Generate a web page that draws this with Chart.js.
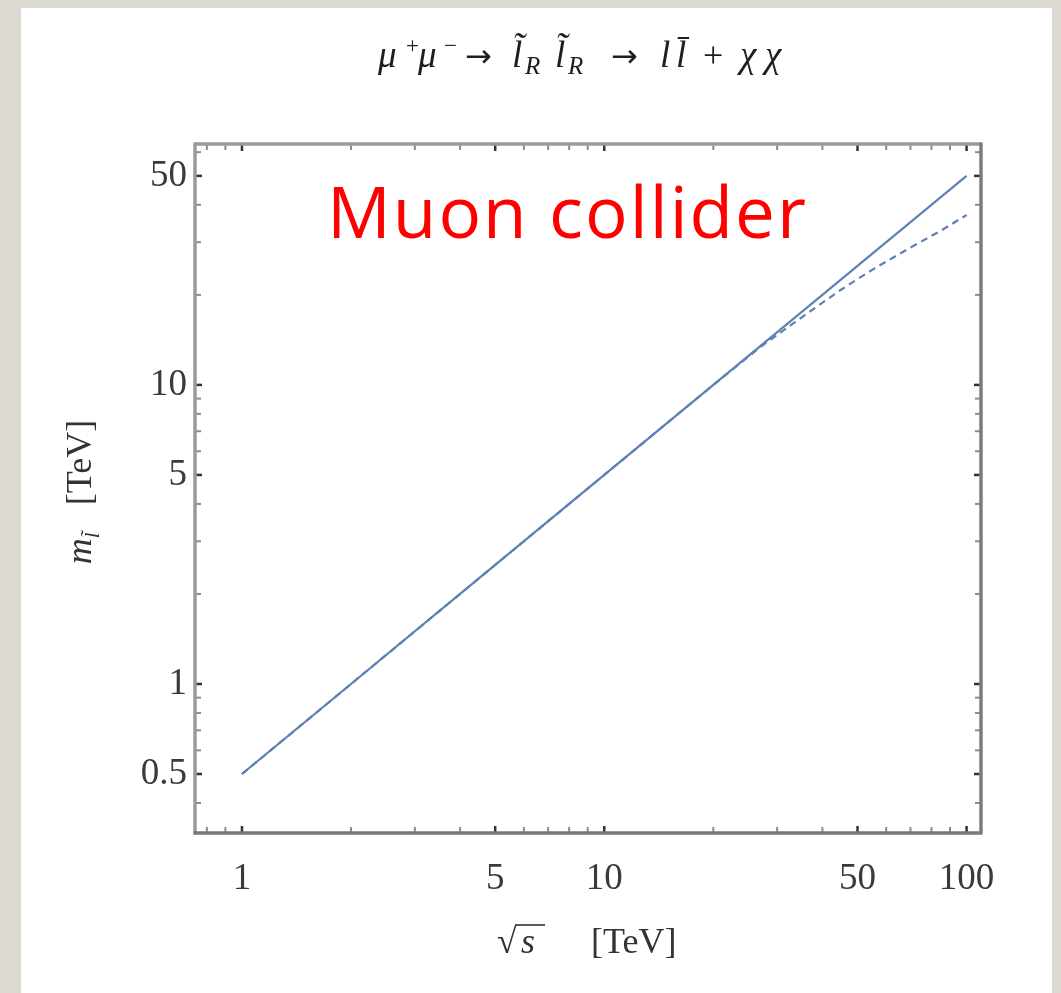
<!DOCTYPE html>
<html>
<head>
<meta charset="utf-8">
<script src="https://cdn.jsdelivr.net/npm/chart.js@4.4.0/dist/chart.umd.min.js"></script>
<style>
html, body { margin: 0; padding: 0; background: #dcd9d3; }
#panel { position: absolute; left: 21px; top: 8px; width: 1031px; height: 985px; background: #fff; }
#wrap { position: absolute; left: 0; top: 0; width: 1061px; height: 993px; }
</style>
</head>
<body>
<div id="panel"></div>
<div id="wrap"><canvas id="myChart"></canvas></div>
<script>
// sqrt(s) [TeV] and slepton mass reach [TeV]
var rootS = [1, 2, 5, 10, 20, 50, 100];
var mSolid = [0.5, 1, 2.5, 5, 10, 25, 50];
var rootSDashed = [1, 5, 10, 20, 27, 35, 45, 55, 70, 85, 100];
var mDashed = [0.5, 2.5, 5, 10, 13.4, 16.8, 20.8, 24.3, 28.8, 32.8, 37];

// frame ticks, labelled ones first
var xMajor = [1, 5, 10, 50, 100];
var xMinor = [0.8, 0.9, 2, 3, 4, 6, 7, 8, 9, 20, 30, 40, 60, 70, 80, 90];
var yMajor = [0.5, 1, 5, 10, 50];
var yMinor = [0.4, 0.6, 0.7, 0.8, 0.9, 2, 3, 4, 6, 7, 8, 9, 20, 30, 40, 60];

var SERIF = '"Liberation Serif", "DejaVu Serif", serif';
var LINE = '#5e81b5';

function pts(xs, ys) {
    var out = [];
    for (var i = 0; i < xs.length; i++) out.push({x: xs[i], y: ys[i]});
    return out;
}

// draws a list of text pieces one after the other, centred on x
function drawRuns(ctx, runs, x, y) {
    var w = 0;
    runs.forEach(function (r) { ctx.font = r.font; r.w = ctx.measureText(r.t).width; w += r.w; });
    var cx = x - w / 2;
    ctx.textBaseline = 'alphabetic';
    ctx.textAlign = 'left';
    runs.forEach(function (r) {
        ctx.font = r.font;
        ctx.fillText(r.t, cx, y + (r.dy || 0));
        r.x = cx;
        cx += r.w;
    });
    return runs;
}

// pieces with their own x
function drawPlaced(ctx, runs, y) {
    ctx.textBaseline = 'alphabetic';
    ctx.textAlign = 'left';
    runs.forEach(function (r) {
        ctx.font = r.font;
        ctx.fillText(r.t, r.x, y + (r.dy || 0));
    });
}

var framePlugin = {
    id: 'frame',
    afterDatasetsDraw: function (chart) {
        var ctx = chart.ctx, a = chart.chartArea;
        var xs = chart.scales.x, ys = chart.scales.y;
        ctx.save();
        function tick(x1, y1, x2, y2, col, lw) {
            ctx.strokeStyle = col; ctx.lineWidth = lw;
            ctx.beginPath(); ctx.moveTo(x1, y1); ctx.lineTo(x2, y2); ctx.stroke();
        }
        xMinor.forEach(function (v) {
            var p = xs.getPixelForValue(v);
            tick(p, a.bottom, p, a.bottom - 6, '#8c8c8c', 2);
            tick(p, a.top, p, a.top + 6, '#8c8c8c', 2);
        });
        xMajor.forEach(function (v) {
            var p = xs.getPixelForValue(v);
            tick(p, a.bottom, p, a.bottom - 7, '#333', 2.5);
            tick(p, a.top, p, a.top + 7, '#333', 2.5);
        });
        yMinor.forEach(function (v) {
            var p = ys.getPixelForValue(v);
            tick(a.left, p, a.left + 6, p, '#8c8c8c', 2);
            tick(a.right, p, a.right - 6, p, '#8c8c8c', 2);
        });
        yMajor.forEach(function (v) {
            var p = ys.getPixelForValue(v);
            tick(a.left, p, a.left + 7, p, '#333', 2.5);
            tick(a.right, p, a.right - 7, p, '#333', 2.5);
        });
        // frame
        tick(a.left, a.top - 1.5, a.left, a.bottom + 1.5, '#9a9a9a', 3.5);
        tick(a.left, a.top, a.right, a.top, '#9a9a9a', 3.5);
        tick(a.left - 1.5, a.bottom, a.right + 1.5, a.bottom, '#787878', 3.5);
        tick(a.right, a.top - 1.5, a.right, a.bottom, '#7c7c7c', 3.5);
        ctx.restore();
    },
    afterDraw: function (chart) {
        var ctx = chart.ctx;
        ctx.save();

        // process title
        ctx.fillStyle = '#1e1e1e';
        var it = 'italic 37px ' + SERIF, sub = 'italic 25px ' + SERIF,
            sup = '23px ' + SERIF, arr = '32px "DejaVu Sans", sans-serif', rm = '36px ' + SERIF;
        drawPlaced(ctx, [
            {t: '\u03bc', font: it, x: 378}, {t: '+', font: sup, x: 406, dy: -14},
            {t: '\u03bc', font: it, x: 418}, {t: '\u2212', font: sup, x: 444, dy: -14},
            {t: '\u2192', font: arr, x: 465},
            {t: 'l\u0303', font: it, x: 512}, {t: 'R', font: sub, x: 525, dy: 7},
            {t: 'l\u0303', font: it, x: 555}, {t: 'R', font: sub, x: 568, dy: 7},
            {t: '\u2192', font: arr, x: 611},
            {t: 'l', font: it, x: 660}, {t: 'l\u0304', font: it, x: 676},
            {t: '+', font: rm, x: 703},
            {t: '\u03c7', font: it, x: 740}, {t: '\u03c7', font: it, x: 765}
        ], 67);

        // x axis title
        ctx.fillStyle = '#333';
        drawPlaced(ctx, [
            {t: '\u221a', font: '36px ' + SERIF, x: 497},
            {t: 's', font: 'italic 36px ' + SERIF, x: 521},
            {t: '[TeV]', font: '36px ' + SERIF, x: 591}
        ], 953);
        ctx.strokeStyle = '#333'; ctx.lineWidth = 1.6;
        ctx.beginPath(); ctx.moveTo(516, 925); ctx.lineTo(545, 925); ctx.stroke();

        // y axis title
        ctx.translate(91, 492);
        ctx.rotate(-Math.PI / 2);
        drawRuns(ctx, [
            {t: 'm', font: 'italic 36px ' + SERIF},
            {t: 'l\u0303', font: 'italic 21px ' + SERIF, dy: 8},
            {t: '   ', font: '36px ' + SERIF},
            {t: '[TeV]', font: '36px ' + SERIF}
        ], 0, 0);
        ctx.setTransform(1, 0, 0, 1, 0, 0);

        // label inside the plot
        ctx.fillStyle = '#ff0000';
        ctx.font = '71px "Open Sans", "Noto Sans", sans-serif';
        ctx.letterSpacing = '2px';
        ctx.textAlign = 'left';
        ctx.textBaseline = 'alphabetic';
        ctx.fillText('Muon collider', 327, 238);
        ctx.letterSpacing = '0px';
        ctx.restore();
    }
};

var tickFont = {family: SERIF, size: 37};

var ctx = document.getElementById('myChart');
var myChart = new Chart(ctx, {
    type: 'scatter',
    data: {
        datasets: [{
            data: pts(rootS, mSolid),
            showLine: true,
            borderColor: LINE,
            borderWidth: 2.2,
            pointRadius: 0
        }, {
            data: pts(rootSDashed, mDashed),
            showLine: true,
            borderColor: LINE,
            borderWidth: 2.2,
            borderDash: [7, 5],
            pointRadius: 0
        }]
    },
    options: {
        responsive: true,
        maintainAspectRatio: false,
        animation: false,
        layout: {padding: {top: 144, right: 80, left: 0, bottom: 0}},
        plugins: {legend: {display: false}, tooltip: {enabled: false}},
        scales: {
            x: {
                type: 'logarithmic',
                bounds: 'data',
                min: 0.742,
                max: 109.6,
                afterBuildTicks: function (s) { s.ticks = xMajor.map(function (v) { return {value: v}; }); },
                afterFit: function (s) { s.height = 160; },
                grid: {display: false, drawTicks: false},
                border: {display: false},
                ticks: {
                    autoSkip: false, maxRotation: 0, padding: 24, color: '#3a3a3a', font: tickFont,
                    callback: function (v) { return String(v); }
                }
            },
            y: {
                type: 'logarithmic',
                bounds: 'data',
                min: 0.3175,
                max: 63.9,
                afterBuildTicks: function (s) { s.ticks = yMajor.map(function (v) { return {value: v}; }); },
                afterFit: function (s) { s.width = 195; },
                grid: {display: false, drawTicks: false},
                border: {display: false},
                ticks: {
                    autoSkip: false, padding: 8, color: '#3a3a3a', font: tickFont,
                    callback: function (v) { return String(v); }
                }
            }
        }
    },
    plugins: [framePlugin]
});
</script>
</body>
</html>
